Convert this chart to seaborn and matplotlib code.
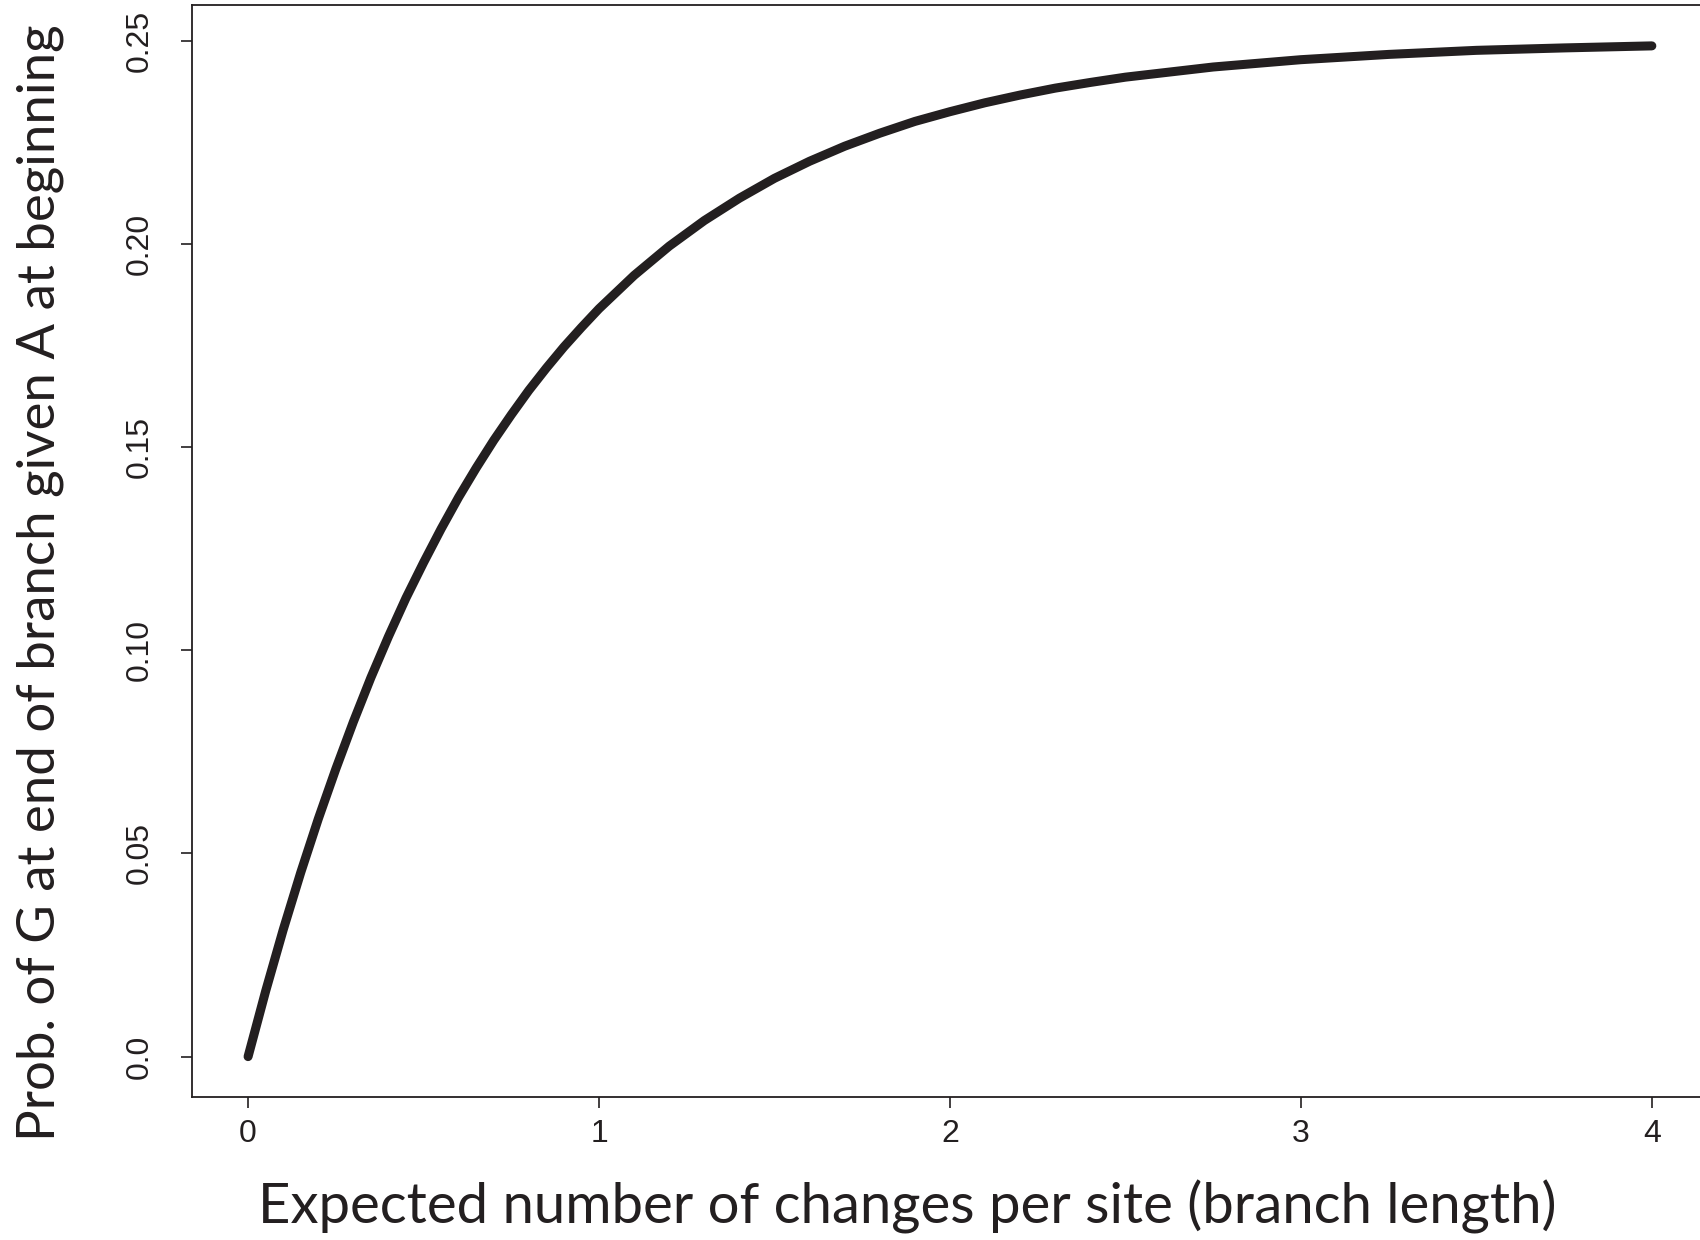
import matplotlib
matplotlib.use("Agg")
import matplotlib.pyplot as plt
import seaborn as sns
import pandas as pd

# branch length vs probability
branch_length = [0.0, 0.05, 0.1, 0.15, 0.2, 0.25, 0.3, 0.35, 0.4, 0.45, 0.5,
                 0.55, 0.6, 0.65, 0.7, 0.75, 0.8, 0.85, 0.9, 0.95, 1.0,
                 1.1, 1.2, 1.3, 1.4, 1.5, 1.6, 1.7, 1.8, 1.9, 2.0,
                 2.1, 2.2, 2.3, 2.4, 2.5, 2.75, 3.0, 3.25, 3.5, 3.75, 4.0]
prob_G = [0.0000, 0.0161, 0.0312, 0.0453, 0.0585, 0.0708, 0.0824, 0.0933, 0.1034, 0.1129, 0.1216,
          0.1299, 0.1377, 0.1449, 0.1517, 0.1580, 0.1640, 0.1695, 0.1747, 0.1795, 0.1841,
          0.1923, 0.1995, 0.2058, 0.2113, 0.2162, 0.2204, 0.2241, 0.2273, 0.2302, 0.2326,
          0.2348, 0.2367, 0.2384, 0.2398, 0.2411, 0.2436, 0.2454, 0.2467, 0.2477, 0.2483, 0.2488]

x_ticks = [0, 1, 2, 3, 4]
y_ticks = [0.0, 0.05, 0.10, 0.15, 0.20, 0.25]
y_ticklabels = ["0.0", "0.05", "0.10", "0.15", "0.20", "0.25"]

df = pd.DataFrame({"t": branch_length, "p": prob_G})

sns.set_style("white")
ink = "#231f20"

fig = plt.figure(figsize=(17, 12.4), dpi=100)
ax = fig.add_axes([0.1129, 0.1153, 0.8918, 0.8803])

sns.lineplot(data=df, x="t", y="p", ax=ax, color=ink, linewidth=6.5,
             solid_capstyle="round", solid_joinstyle="round")

ax.set_xlim(-0.16, 4.16)
ax.set_ylim(-0.00995, 0.25875)

ax.set_xticks(x_ticks)
ax.set_xticklabels([str(v) for v in x_ticks], fontfamily="Liberation Sans", fontsize=23, color=ink)
ax.set_yticks(y_ticks)
ax.set_yticklabels(y_ticklabels, fontfamily="Liberation Sans", fontsize=23, color=ink,
                   rotation=90, va="center")
ax.tick_params(axis="x", direction="out", length=8, width=1.2, color=ink, pad=8, bottom=True)
ax.tick_params(axis="y", direction="out", length=8, width=1.2, color=ink, pad=19, left=True)

for side in ["left", "bottom", "top"]:
    ax.spines[side].set_visible(True)
    ax.spines[side].set_color(ink)
    ax.spines[side].set_linewidth(1.3)
ax.spines["right"].set_visible(False)

ax.set_xlabel("Expected number of changes per site (branch length)",
              fontfamily="Lato", fontsize=40.5, color=ink, va="center")
ax.xaxis.set_label_coords(0.472, -0.1007)
ax.set_ylabel("Prob. of G at end of branch given A at beginning",
              fontfamily="Lato", fontsize=38, color=ink, va="center", ha="center")
ax.yaxis.set_label_coords(-0.1003, 0.4707)

fig.savefig("out.png", dpi=100)
